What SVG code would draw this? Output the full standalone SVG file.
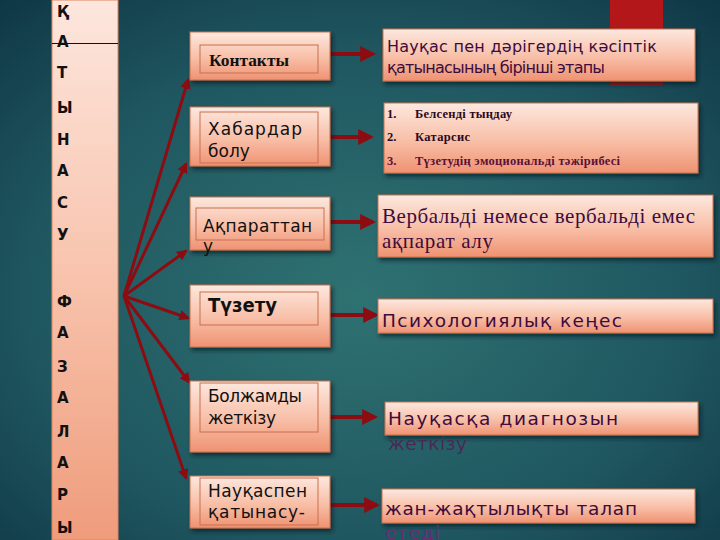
<svg xmlns="http://www.w3.org/2000/svg" width="720" height="540" viewBox="0 0 720 540">
<defs>
<radialGradient id="bg" cx="0.5" cy="0.55" r="0.75">
<stop offset="0" stop-color="#2f7272"/>
<stop offset="0.6" stop-color="#1f5760"/>
<stop offset="1" stop-color="#0f3645"/>
</radialGradient>
<linearGradient id="bar" x1="0" y1="0" x2="0" y2="1">
<stop offset="0" stop-color="#fde6dd"/>
<stop offset="0.5" stop-color="#f8c4ae"/>
<stop offset="1" stop-color="#ef9c7c"/>
</linearGradient>
<linearGradient id="box" x1="0" y1="0" x2="0" y2="1">
<stop offset="0" stop-color="#fde8df"/>
<stop offset="0.55" stop-color="#f8bea6"/>
<stop offset="1" stop-color="#ef9272"/>
</linearGradient>
<filter id="sh" x="-10%" y="-20%" width="120%" height="150%">
<feDropShadow dx="2" dy="3" stdDeviation="2" flood-color="#051a20" flood-opacity="0.7"/>
</filter>
<marker id="ah" viewBox="0 0 10 10" refX="8" refY="5" markerWidth="3.6" markerHeight="3.6" orient="auto" markerUnits="strokeWidth">
<path d="M0,0 L10,5 L0,10 z" fill="#8c0c12"/>
</marker>
<marker id="ah2" viewBox="0 0 10 10" refX="8" refY="5" markerWidth="4" markerHeight="4" orient="auto" markerUnits="strokeWidth">
<path d="M0,0 L10,5 L0,10 z" fill="#8c0c12"/>
</marker>
</defs>
<style>
.box{fill:url(#box);stroke:#c8704c;stroke-width:1;filter:url(#sh)}
.inner{fill:none;stroke:#c8704c;stroke-width:1}
.lt{font-family:"DejaVu Sans","Liberation Sans",sans-serif;font-size:17px;fill:#111}
.big{font-size:20px;font-weight:bold}
.ser{font-family:"Liberation Serif",serif;font-weight:bold;font-size:16px;fill:#111}
.rt{font-family:"DejaVu Sans","Liberation Sans",sans-serif;font-size:18.5px;fill:#3d0c3d}
.rt16{font-size:16px}
.rs{font-family:"Liberation Serif",serif;font-size:21px;fill:#3d0c3d}
.li{font-family:"Liberation Serif",serif;font-size:12.5px;font-weight:bold;fill:#2a0a20}
.li3{fill:#5a1238}
.vl{font-family:"DejaVu Sans","Liberation Sans",sans-serif;font-size:15px;font-weight:bold;fill:#111}
.fan{stroke:#8c0c12;stroke-width:3;fill:none;marker-end:url(#ah)}
.rar{stroke:#8c0c12;stroke-width:4;fill:none;marker-end:url(#ah2)}
</style>
<rect width="720" height="540" fill="url(#bg)"/>
<rect x="610" y="0" width="53" height="85" fill="#b3171a"/>

<g id="sidebar">
<rect x="52" y="0" width="66" height="540" fill="url(#bar)" stroke="#e0845c" stroke-width="1"/>
<line x1="52" y1="43.500" x2="118" y2="43.500" stroke="#111" stroke-width="1"/>
<text class="vl" x="57" y="17">Қ</text>
<text class="vl" x="57" y="47">А</text>
<text class="vl" x="57" y="78">Т</text>
<text class="vl" x="57" y="113">Ы</text>
<text class="vl" x="57" y="145">Н</text>
<text class="vl" x="57" y="176">А</text>
<text class="vl" x="57" y="208">С</text>
<text class="vl" x="57" y="240">У</text>
<text class="vl" x="57" y="307">Ф</text>
<text class="vl" x="57" y="338">А</text>
<text class="vl" x="57" y="372">З</text>
<text class="vl" x="57" y="403">А</text>
<text class="vl" x="57" y="437">Л</text>
<text class="vl" x="57" y="468">А</text>
<text class="vl" x="57" y="500">Р</text>
<text class="vl" x="57" y="533">Ы</text>
</g>

<g id="connectors">
<line class="fan" x1="124" y1="296" x2="188" y2="80"/>
<line class="fan" x1="124" y1="296" x2="186" y2="164"/>
<line class="fan" x1="124" y1="296" x2="186" y2="251"/>
<line class="fan" x1="124" y1="296" x2="188" y2="318"/>
<line class="fan" x1="124" y1="296" x2="189" y2="382"/>
<line class="fan" x1="124" y1="296" x2="186" y2="478"/>
<line class="rar" x1="330" y1="54" x2="373" y2="54"/>
<line class="rar" x1="330" y1="137" x2="371" y2="137"/>
<line class="rar" x1="330" y1="222" x2="373" y2="222"/>
<line class="rar" x1="330" y1="315" x2="376" y2="315"/>
<line class="rar" x1="328" y1="417" x2="375" y2="417"/>
<line class="rar" x1="330" y1="505" x2="377" y2="505"/>
</g>

<g id="n1">
<rect class="box" x="190" y="32" width="140" height="48"/>
<rect class="inner" x="200" y="45" width="118" height="28"/>
<text class="ser" x="209" y="66" textLength="80" lengthAdjust="spacingAndGlyphs">Контакты</text>
</g>
<g id="n2">
<rect class="box" x="190" y="107" width="140" height="59"/>
<rect class="inner" x="200" y="112" width="118" height="51"/>
<text class="lt" x="208" y="135" textLength="94">Хабардар</text>
<text class="lt" x="208" y="157">болу</text>
</g>
<g id="n3">
<rect class="box" x="190" y="197" width="140" height="53"/>
<rect class="inner" x="196" y="208" width="128" height="32"/>
<text class="lt" x="203" y="232" textLength="109">Ақпараттан</text>
<text class="lt" x="203" y="252">у</text>
</g>
<g id="n4">
<rect class="box" x="190" y="285" width="140" height="62"/>
<rect class="inner" x="200" y="292" width="118" height="33"/>
<text class="lt big" x="208" y="312" textLength="69" lengthAdjust="spacingAndGlyphs">Түзету</text>
</g>
<g id="n5">
<rect class="box" x="190" y="381" width="140" height="71"/>
<rect class="inner" x="200" y="383" width="118" height="49"/>
<text class="lt" x="208" y="402" textLength="94">Болжамды</text>
<text class="lt" x="208" y="424" textLength="68">жеткізу</text>
</g>
<g id="n6">
<rect class="box" x="190" y="476" width="140" height="52"/>
<rect class="inner" x="200" y="478" width="118" height="47"/>
<text class="lt" x="208" y="497" textLength="99">Науқаспен</text>
<text class="lt" x="208" y="518" textLength="97">қатынасу-</text>
</g>

<g id="r1">
<rect class="box" x="383" y="29" width="312" height="52"/>
<text class="rt rt16" x="387" y="52" textLength="270">Науқас пен дәрігердің кәсіптік</text>
<text class="rt rt16" x="387" y="73" textLength="218">қатынасының бірінші этапы</text>
</g>
<g id="r2">
<rect class="box" x="384" y="103" width="314" height="70"/>
<text class="li" x="387" y="118">1.</text>
<text class="li" x="415" y="118" textLength="97">Белсенді тыңдау</text>
<text class="li" x="387" y="141">2.</text>
<text class="li" x="415" y="141" textLength="55">Катарсис</text>
<text class="li li3" x="387" y="165">3.</text>
<text class="li li3" x="415" y="165" textLength="205">Түзетудің эмоциональді тәжірибесі</text>
</g>
<g id="r3">
<rect class="box" x="378" y="195" width="335" height="62"/>
<text class="rs" x="382" y="223" textLength="313">Вербальді немесе вербальді емес</text>
<text class="rs" x="382" y="248" textLength="111">ақпарат алу</text>
</g>
<g id="r4">
<rect class="box" x="378" y="299" width="335" height="34"/>
<text class="rt" x="382" y="327" textLength="240">Психологиялық кеңес</text>
</g>
<g id="r5">
<rect class="box" x="385" y="402" width="313" height="33"/>
<text class="rt" x="388" y="425" textLength="230">Науқасқа диагнозын</text>
<text class="rt" x="388" y="450" style="fill:#4a2a55" textLength="79">жеткізу</text>
</g>
<g id="r6">
<rect class="box" x="382" y="489" width="313" height="34"/>
<text class="rt" x="385" y="515" textLength="252">жан-жақтылықты талап</text>
<text class="rt" x="385" y="539" style="fill:#6e2a74" textLength="55">етеді</text>
</g>
</svg>
